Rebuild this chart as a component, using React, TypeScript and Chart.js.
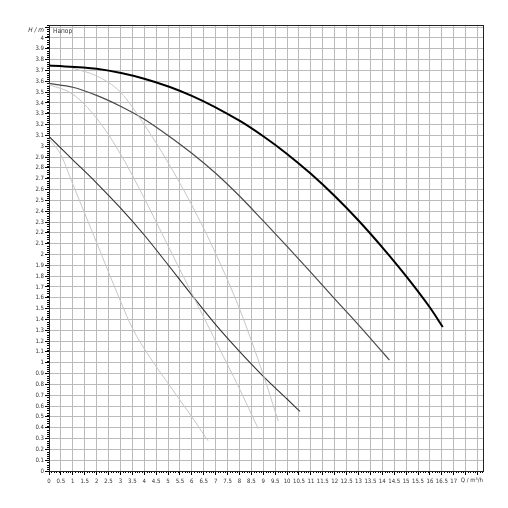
import React, { useEffect, useRef } from "react";
import { Chart, registerables } from "chart.js";

Chart.register(...registerables);

// ---- data ----
const maxQ = [0, 2, 4, 6, 8, 9, 10, 11, 12, 13, 14, 15, 16, 16.54];
const maxH = [3.745, 3.716, 3.624, 3.466, 3.236, 3.092, 2.929, 2.745, 2.54, 2.314, 2.066, 1.8, 1.51, 1.33];

const midQ = [0, 1, 2, 3, 4, 5, 6, 7, 8, 9, 10, 11, 12, 13, 14, 14.3];
const midH = [3.58, 3.545, 3.47, 3.37, 3.25, 3.1, 2.935, 2.75, 2.54, 2.31, 2.075, 1.835, 1.59, 1.35, 1.1, 1.025];

const minQ = [0, 1, 2, 3, 4, 5, 6, 7, 8, 9, 10, 10.54];
const minH = [3.09, 2.875, 2.66, 2.43, 2.18, 1.905, 1.625, 1.352, 1.105, 0.875, 0.665, 0.55];

const lightAQ = [0, 0.5, 1, 2, 3, 3.5, 4, 5, 6, 6.68];
const lightAH = [3.07, 2.92, 2.65, 2.11, 1.57, 1.32, 1.13, 0.81, 0.5, 0.28];

const lightBQ = [0, 1, 2, 3, 4, 5, 6, 7, 8, 8.79];
const lightBH = [3.57, 3.48, 3.26, 2.93, 2.52, 2.08, 1.64, 1.2, 0.76, 0.39];

const lightCQ = [1.0, 2, 3, 4, 5, 6, 7, 8, 9, 9.63];
const lightCH = [3.72, 3.65, 3.5, 3.2, 2.85, 2.455, 2.01, 1.5, 0.89, 0.46];

// ---- axes ----
const X_MAX = 18.23;
const Y_MAX = 4.12;
const xTickValues = Array.from({ length: 37 }, (_, i) => i * 0.5); // 0 .. 18
const yTickValues = Array.from({ length: 42 }, (_, i) => i / 10); // 0 .. 4.1
const X_LAST_LABELED = 17;
const Y_LAST_LABELED = 4;
const Y_AXIS_TITLE = "H / m";
const X_AXIS_TITLE = "Q / m³/h";
const CURVE_TITLE = "Напор";

const FONT = "'Liberation Sans Narrow', 'DejaVu Sans Condensed', Arial, sans-serif";
const TEXT = "#333";

const fmt = (v: number) => String(Math.round(v * 10) / 10);
const pts = (q: number[], h: number[]) => q.map((x, i) => ({ x, y: h[i] }));

const framePlugin = {
  id: "frameAndMinorTicks",
  beforeDatasetsDraw(chart: any) {
    const { ctx, chartArea } = chart;
    const xs = chart.scales.x;
    const ys = chart.scales.y;
    ctx.save();
    ctx.strokeStyle = "#000";
    ctx.lineWidth = 1;
    ctx.beginPath();
    for (let i = 0; i * 0.1 <= X_MAX; i++) {
      if (i % 5 === 0) continue;
      const px = Math.round(xs.getPixelForValue(i * 0.1)) + 0.5;
      ctx.moveTo(px, chartArea.bottom);
      ctx.lineTo(px, chartArea.bottom + 2);
    }
    for (let i = 0; i * 0.02 <= Y_MAX; i++) {
      if (i % 5 === 0) continue;
      const py = Math.round(ys.getPixelForValue(i * 0.02)) + 0.5;
      ctx.moveTo(chartArea.left - 2, py);
      ctx.lineTo(chartArea.left, py);
    }
    ctx.stroke();
    ctx.strokeStyle = "#222";
    ctx.strokeRect(
      Math.round(chartArea.left) + 0.5,
      Math.round(chartArea.top) + 0.5,
      Math.round(chartArea.right - chartArea.left),
      Math.round(chartArea.bottom - chartArea.top)
    );
    ctx.restore();
  },
  afterDraw(chart: any) {
    const { ctx, chartArea } = chart;
    const ys = chart.scales.y;
    ctx.save();
    ctx.fillStyle = TEXT;
    ctx.textBaseline = "middle";
    ctx.font = `6.5px ${FONT}`;
    ctx.textAlign = "left";
    ctx.fillText(CURVE_TITLE, chartArea.left + 4, ys.getPixelForValue(4.06));
    ctx.font = `italic 6.5px ${FONT}`;
    ctx.textAlign = "right";
    ctx.fillText(Y_AXIS_TITLE, chartArea.left - 5, ys.getPixelForValue(4.075));
    ctx.font = `6px ${FONT}`;
    ctx.fillText(X_AXIS_TITLE, chartArea.right, chartArea.bottom + 9.5);
    ctx.restore();
  },
};

export default function App() {
  const ref = useRef<HTMLCanvasElement | null>(null);

  useEffect(() => {
    document.body.style.margin = "0";
    const canvas = ref.current;
    if (!canvas) return;
    const line = (q: number[], h: number[], color: string, width: number) => ({
      data: pts(q, h),
      showLine: true,
      borderColor: color,
      backgroundColor: color,
      borderWidth: width,
      pointRadius: 0,
      cubicInterpolationMode: "monotone" as const,
      fill: false,
    });
    const chart = new Chart(canvas, {
      type: "scatter",
      data: {
        datasets: [
          line(lightAQ, lightAH, "#c6c6c6", 1),
          line(lightBQ, lightBH, "#c6c6c6", 1),
          line(lightCQ, lightCH, "#c6c6c6", 1),
          line(minQ, minH, "#333", 1.1),
          line(midQ, midH, "#4a4a4a", 1.2),
          line(maxQ, maxH, "#000", 2),
        ],
      },
      options: {
        responsive: false,
        animation: false,
        layout: { padding: { top: 25, right: 25, left: 0, bottom: 0 } },
        plugins: { legend: { display: false }, tooltip: { enabled: false } },
        scales: {
          x: {
            type: "linear",
            min: 0,
            max: X_MAX,
            afterBuildTicks: (s: any) => {
              s.ticks = xTickValues.map((v) => ({ value: v }));
            },
            afterFit: (s: any) => {
              s.height = 37;
            },
            grid: { color: "#bbbbbb", lineWidth: 1, tickColor: "#000", tickLength: 4 },
            border: { display: false },
            ticks: {
              autoSkip: false,
              maxRotation: 0,
              padding: 3,
              color: TEXT,
              font: { size: 6, family: FONT },
              callback: (v: any) => (Number(v) <= X_LAST_LABELED + 1e-6 ? fmt(Number(v)) : ""),
            },
          },
          y: {
            type: "linear",
            min: 0,
            max: Y_MAX,
            afterBuildTicks: (s: any) => {
              s.ticks = yTickValues.map((v) => ({ value: v }));
            },
            afterFit: (s: any) => {
              s.width = 49;
            },
            grid: { color: "#bbbbbb", lineWidth: 1, tickColor: "#000", tickLength: 4 },
            border: { display: false },
            ticks: {
              autoSkip: false,
              padding: 1,
              color: TEXT,
              font: { size: 6, family: FONT },
              callback: (v: any) => (Number(v) <= Y_LAST_LABELED + 1e-6 ? fmt(Number(v)) : ""),
            },
          },
        },
      },
      plugins: [framePlugin],
    });
    return () => chart.destroy();
  }, []);

  return <canvas ref={ref} width={508} height={508} style={{ display: "block" }} />;
}
